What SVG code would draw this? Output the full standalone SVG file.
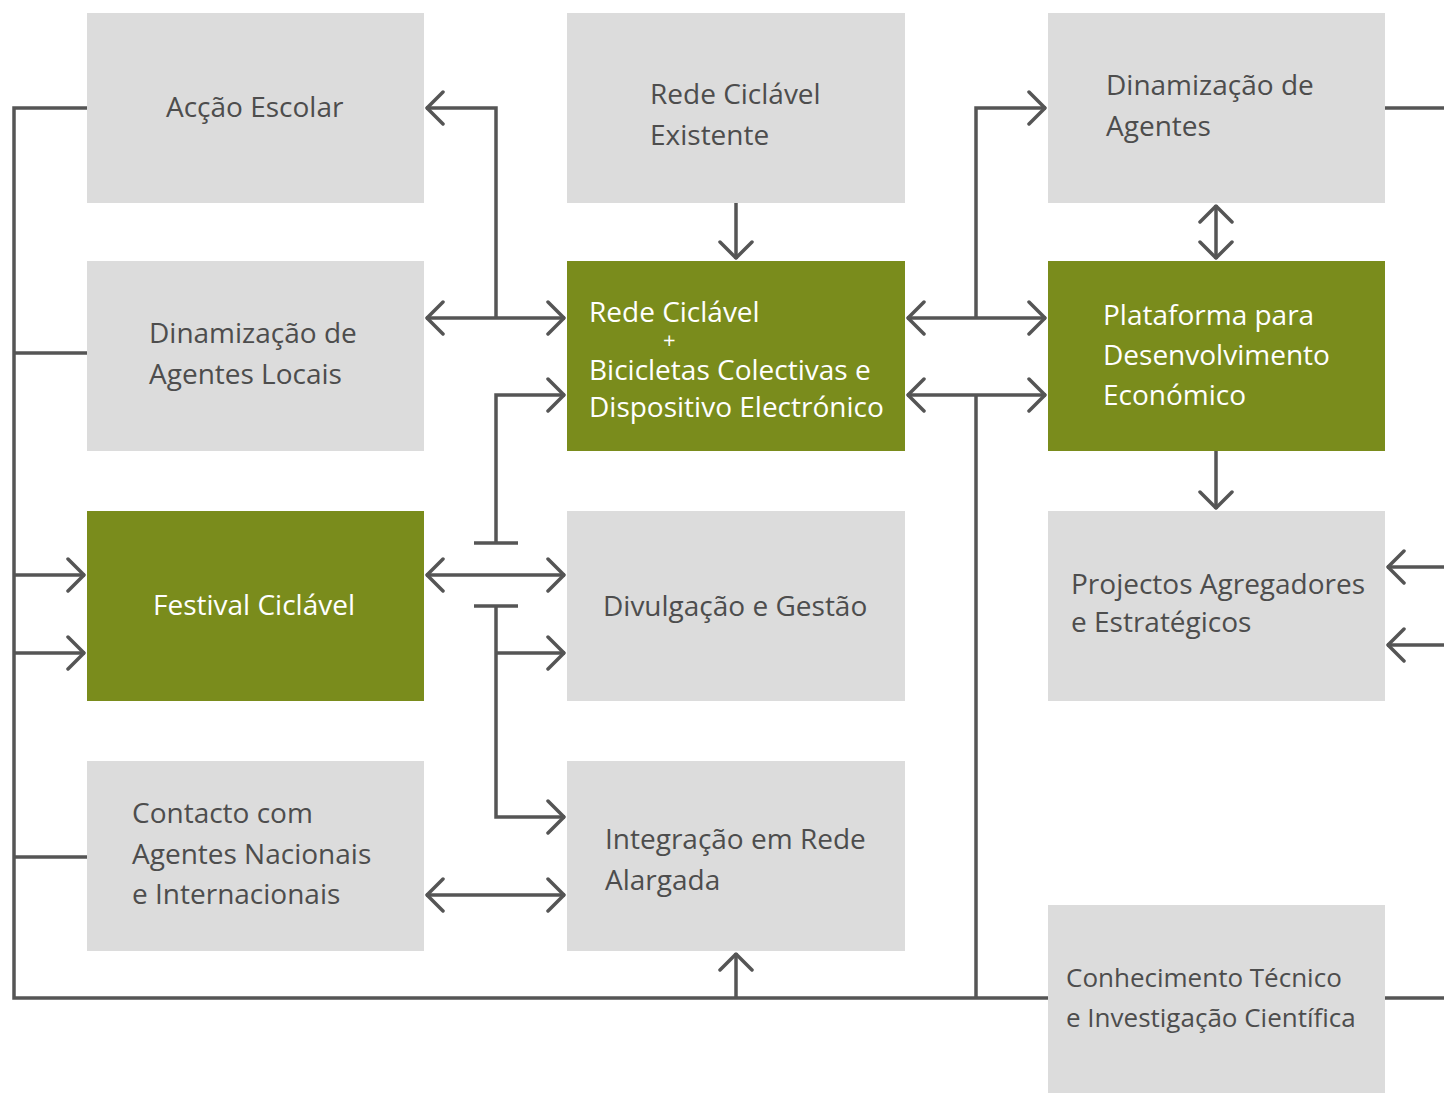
<svg xmlns="http://www.w3.org/2000/svg" width="1444" height="1093" viewBox="0 0 1444 1093">
<defs>
<style>
.box{fill:#dcdcdc}
.gbox{fill:#7a8c1c}
text{font-family:"Open Sans","Liberation Sans",sans-serif;font-size:28px;fill:#4d4d4d}
.w{fill:#ffffff}
.sm{font-size:26px}
.plus{font-size:22px}
.c{fill:none;stroke:#555555;stroke-width:3.5}
</style>
<marker id="ah" viewBox="0 0 20 36" refX="19" refY="18" markerWidth="20" markerHeight="36" markerUnits="userSpaceOnUse" orient="auto-start-reverse">
<path d="M2,2 L18,18 L2,34" fill="none" stroke="#555555" stroke-width="3.5" stroke-linecap="round" stroke-linejoin="round"/>
</marker>
</defs>
<rect width="1444" height="1093" fill="#ffffff"/>

<g id="connectors">
<path class="c" d="M87,108 H14 V998 H1048"/>
<path class="c" d="M14,353 H87"/>
<path class="c" d="M14,857 H87"/>
<path class="c" d="M14,575 H85" marker-end="url(#ah)"/>
<path class="c" d="M14,653 H85" marker-end="url(#ah)"/>
<path class="c" d="M736,998 V953" marker-end="url(#ah)"/>
<path class="c" d="M976,318 V108 H1046" marker-end="url(#ah)"/>
<path class="c" d="M976,395 V998"/>
<path class="c" d="M1385,108 H1444"/>
<path class="c" d="M1385,998 H1444"/>
<path class="c" d="M1444,567 H1387" marker-end="url(#ah)"/>
<path class="c" d="M1444,645 H1387" marker-end="url(#ah)"/>
<path class="c" d="M736,203 V259" marker-end="url(#ah)"/>
<path class="c" d="M1216,205 V259" marker-start="url(#ah)" marker-end="url(#ah)"/>
<path class="c" d="M1216,451 V509" marker-end="url(#ah)"/>
<path class="c" d="M426,318 H565" marker-start="url(#ah)" marker-end="url(#ah)"/>
<path class="c" d="M496,318 V108 H426" marker-end="url(#ah)"/>
<path class="c" d="M496,543 V395 H565" marker-end="url(#ah)"/>
<path class="c" d="M474,543 H518"/>
<path class="c" d="M426,575 H565" marker-start="url(#ah)" marker-end="url(#ah)"/>
<path class="c" d="M474,606 H518"/>
<path class="c" d="M496,606 V817 H565" marker-end="url(#ah)"/>
<path class="c" d="M496,653 H565" marker-end="url(#ah)"/>
<path class="c" d="M426,895 H565" marker-start="url(#ah)" marker-end="url(#ah)"/>
<path class="c" d="M907,318 H1046" marker-start="url(#ah)" marker-end="url(#ah)"/>
<path class="c" d="M907,395 H1046" marker-start="url(#ah)" marker-end="url(#ah)"/>
</g>

<g id="accao-escolar"><rect class="box" x="87" y="13" width="337" height="190"/><text x="166" y="117">Acção Escolar</text></g>
<g id="rede-existente"><rect class="box" x="567" y="13" width="338" height="190"/><text x="650" y="104">Rede Ciclável</text><text x="650" y="145">Existente</text></g>
<g id="dinamizacao-agentes"><rect class="box" x="1048" y="13" width="337" height="190"/><text x="1106" y="95">Dinamização de</text><text x="1106" y="136">Agentes</text></g>
<g id="dinamizacao-locais"><rect class="box" x="87" y="261" width="337" height="190"/><text x="149" y="343">Dinamização de</text><text x="149" y="384">Agentes Locais</text></g>
<g id="rede-bicicletas"><rect class="gbox" x="567" y="261" width="338" height="190"/><text class="w" x="589" y="322">Rede Ciclável</text><text class="w plus" x="663" y="348">+</text><text class="w" x="589" y="380">Bicicletas Colectivas e</text><text class="w" x="589" y="417">Dispositivo Electrónico</text></g>
<g id="plataforma"><rect class="gbox" x="1048" y="261" width="337" height="190"/><text class="w" x="1103" y="325">Plataforma para</text><text class="w" x="1103" y="365">Desenvolvimento</text><text class="w" x="1103" y="405">Económico</text></g>
<g id="festival"><rect class="gbox" x="87" y="511" width="337" height="190"/><text class="w" x="153" y="615">Festival Ciclável</text></g>
<g id="divulgacao"><rect class="box" x="567" y="511" width="338" height="190"/><text x="603" y="616">Divulgação e Gestão</text></g>
<g id="projectos"><rect class="box" x="1048" y="511" width="337" height="190"/><text x="1071" y="594">Projectos Agregadores</text><text x="1071" y="632">e Estratégicos</text></g>
<g id="contacto"><rect class="box" x="87" y="761" width="337" height="190"/><text x="132" y="823">Contacto com</text><text x="132" y="864">Agentes Nacionais</text><text x="132" y="904">e Internacionais</text></g>
<g id="integracao"><rect class="box" x="567" y="761" width="338" height="190"/><text x="605" y="849">Integração em Rede</text><text x="605" y="890">Alargada</text></g>
<g id="conhecimento"><rect class="box" x="1048" y="905" width="337" height="188"/><text class="sm" x="1066" y="987">Conhecimento Técnico</text><text class="sm" x="1066" y="1027">e Investigação Científica</text></g>
</svg>
